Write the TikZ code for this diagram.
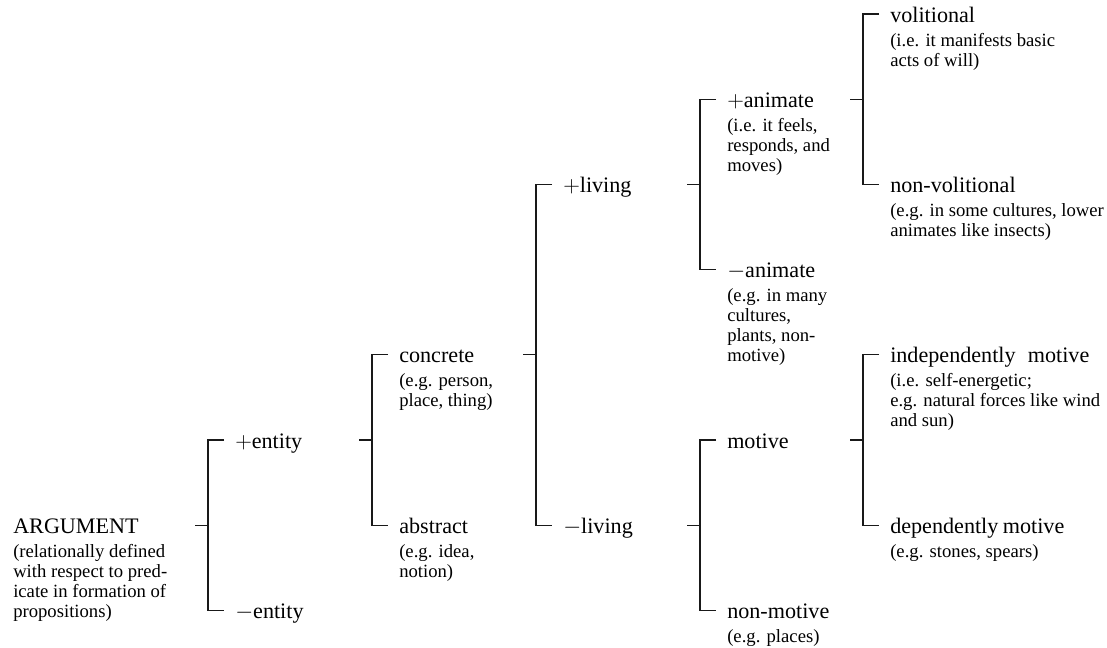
\documentclass[tikz,border=0pt]{standalone}
\usepackage{fontspec}
\setmainfont{Liberation Serif}
\usetikzlibrary{calc}
\tikzset{
  mainlbl/.style={anchor=base west, inner sep=0pt, font=\fontsize{16.6}{19}\selectfont},
  sublbl/.style={anchor=north west, inner sep=0pt, align=left, font=\fontsize{14}{15}\selectfont},
  conn/.style={draw=black!90, line width=0.9pt},
}
\newcommand\lbl[4]{% name, x, level, main text
  \node[mainlbl] (#1) at (#2,{14+85.2*#3+8}) {#4};}
\newcommand\sublbl[2]{% name, sub text
  \node[sublbl] (#1-sub) at ($(#1.base west)+(0,10.5)$) {\rule{0pt}{10pt}#2};}
\newcommand\brk[3]{% parent, child1, child2
  \draw[conn] ($(#2.base west)+(-11,-8)$) -- ($(#2.base west)+(-27,-8)$)
     -- ($(#3.base west)+(-27,-8)$) -- ($(#3.base west)+(-11,-8)$);
  \coordinate (#1-j) at ($(#2.base west)!0.5!(#3.base west)+(-27,-8)$);
  \draw[conn] ($(#1-j)+(-13,0)$) -- (#1-j);}
\begin{document}
\begin{tikzpicture}[x=0.75pt,y=-0.75pt]
\useasboundingbox (0,0) rectangle (1107,647);
\lbl{arg}{13}{6}{ARGUMENT}
\sublbl{arg}{(relationally defined\\with respect to pred-\\icate in formation of\\propositions)}
\lbl{pent}{235}{5}{$+$entity}
\lbl{ment}{235}{7}{$-$entity}
\lbl{conc}{399}{4}{concrete}
\sublbl{conc}{(e.g. person,\\place, thing)}
\lbl{abst}{399}{6}{abstract}
\sublbl{abst}{(e.g. idea,\\notion)}
\lbl{pliv}{563}{2}{$+$living}
\lbl{mliv}{563}{6}{$-$living}
\lbl{pani}{727}{1}{$+$animate}
\sublbl{pani}{(i.e. it feels,\\responds, and\\moves)}
\lbl{mani}{727}{3}{$-$animate}
\sublbl{mani}{(e.g. in many\\cultures,\\plants, non-\\motive)}
\lbl{mot}{727}{5}{motive}
\lbl{nmot}{727}{7}{non-motive}
\sublbl{nmot}{(e.g. places)}
\lbl{vol}{890}{0}{volitional}
\sublbl{vol}{(i.e. it manifests basic\\acts of will)}
\lbl{nvol}{890}{2}{non-volitional}
\sublbl{nvol}{(e.g. in some cultures, lower\\animates like insects)}
\lbl{imot}{890}{4}{independently\hspace{0.55em}motive}
\sublbl{imot}{(i.e. self-energetic;\\e.g. natural forces like wind\\and sun)}
\lbl{dmot}{890}{6}{dependently\hspace{0.2em}motive}
\sublbl{dmot}{(e.g. stones, spears)}
\brk{arg}{pent}{ment}
\brk{pent}{conc}{abst}
\brk{conc}{pliv}{mliv}
\brk{pliv}{pani}{mani}
\brk{mliv}{mot}{nmot}
\brk{pani}{vol}{nvol}
\brk{mot}{imot}{dmot}
\end{tikzpicture}
\end{document}
